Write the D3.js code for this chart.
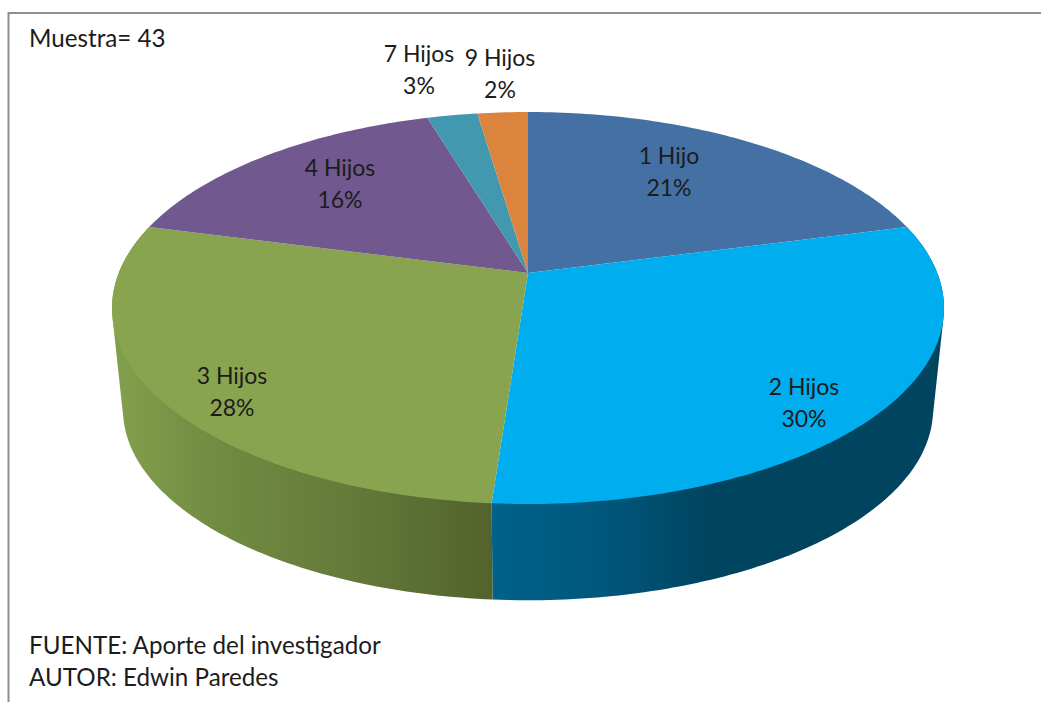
<!DOCTYPE html>
<html>
<head>
<meta charset="utf-8">
<script src="https://cdn.jsdelivr.net/npm/d3@7"></script>
<style>
  html, body { margin: 0; padding: 0; background: #fff; }
  svg { display: block; }
  text { font-family: Lato, "Open Sans", sans-serif; font-size: 23px; fill: #1c1c1c; }
  text.note { font-size: 24.2px; }
</style>
</head>
<body>
<svg id="chart" width="1041" height="702"></svg>
<script>
// counts per category (sample of 43) and the percentages printed on the chart
var categories = ['1 Hijo', '2 Hijos', '3 Hijos', '4 Hijos', '7 Hijos', '9 Hijos'];
var counts = [9, 13, 12, 7, 1, 1];
var percentLabels = ['21%', '30%', '28%', '16%', '3%', '2%'];
var notes = ['Muestra= 43', 'FUENTE: Aporte del investigador', 'AUTOR: Edwin Paredes'];

var topColors = ['#4570a4', '#00adee', '#88a44f', '#71588f', '#4198af', '#db843d'];

// label centres, same order as categories
var labelX = [669, 804, 232, 340, 419, 500];
var labelY = [156, 387, 376, 168, 54, 58];
var noteX = 29, noteY = [39, 646, 678];

var svg = d3.select('#chart');
var defs = svg.append('defs');

// frame, only top and left sides show
svg.append('path')
    .attr('d', 'M8.5,702V13H1041')
    .attr('fill', 'none')
    .attr('stroke', '#8e8e8e')
    .attr('stroke-width', 2);

var pie = d3.pie().sort(null).value(function(d) { return d; });
var arcs = pie(counts);

// perspective projection of the pie disc, k is how far the near edge grows
var k = 0.1786;
var topDisc = {cx: 528, cy: 273, a: 409.3, b: 189.75};
var bottomDisc = {cx: 528, cy: 375.5, a: 398.5, b: 184.6};

function project(disc, angle) {
    var u = Math.sin(angle), v = -Math.cos(angle);
    var w = 1 - k * v;
    return [disc.cx + disc.a * u / w, disc.cy + disc.b * v / w];
}

function rimPoints(disc, d) {
    var n = Math.max(8, Math.ceil((d.endAngle - d.startAngle) * 60));
    var t = d3.scaleLinear().domain([0, n]).range([d.startAngle, d.endAngle]);
    return d3.range(n + 1).map(function(i) { return project(disc, t(i)); });
}

var line = d3.line();

// side wall gradients, running left to right across the chart
function wallGradient(id, stops) {
    var g = defs.append('linearGradient')
        .attr('id', id)
        .attr('gradientUnits', 'userSpaceOnUse')
        .attr('x1', 112).attr('x2', 944)
        .attr('y1', 0).attr('y2', 0);
    stops.forEach(function(s) {
        g.append('stop').attr('offset', s[0]).attr('stop-color', s[1]);
    });
}
wallGradient('wallBlue', [[0.45, '#00628a'], [0.6, '#00567a'], [0.72, '#00445f'], [1, '#00445f']]);
wallGradient('wallGreen', [[0, '#83a04d'], [0.12, '#728c43'], [0.28, '#647b3a'], [0.46, '#53622b']]);

// only the two front slices show a wall
// hull of top and bottom rims gives the straight side edges of the cylinder
var wallFill = {1: 'url(#wallBlue)', 2: 'url(#wallGreen)'};
svg.append('g').selectAll('path')
    .data(arcs.filter(function(d) { return wallFill[d.index]; }))
    .enter().append('path')
    .attr('d', function(d) {
        return line(d3.polygonHull(rimPoints(topDisc, d).concat(rimPoints(bottomDisc, d)))) + 'Z';
    })
    .attr('fill', function(d) { return wallFill[d.index]; });

// top surface
svg.append('g').selectAll('path')
    .data(arcs)
    .enter().append('path')
    .attr('d', function(d) {
        return line([[topDisc.cx, topDisc.cy]].concat(rimPoints(topDisc, d))) + 'Z';
    })
    .attr('fill', function(d) { return topColors[d.index]; });

// slice labels
var labels = svg.append('g').selectAll('text')
    .data(categories)
    .enter().append('text')
    .attr('text-anchor', 'middle')
    .attr('x', function(d, i) { return labelX[i]; })
    .attr('y', function(d, i) { return labelY[i]; });

labels.append('tspan')
    .attr('dy', '0.35em')
    .text(function(d) { return d; });
labels.append('tspan')
    .attr('x', function(d, i) { return labelX[i]; })
    .attr('dy', 32)
    .text(function(d, i) { return percentLabels[i]; });

// sample size and source notes
svg.append('g').selectAll('text')
    .data(notes)
    .enter().append('text')
    .attr('class', 'note')
    .attr('x', noteX)
    .attr('y', function(d, i) { return noteY[i]; })
    .attr('dy', '0.35em')
    .text(function(d) { return d; });
</script>
</body>
</html>
